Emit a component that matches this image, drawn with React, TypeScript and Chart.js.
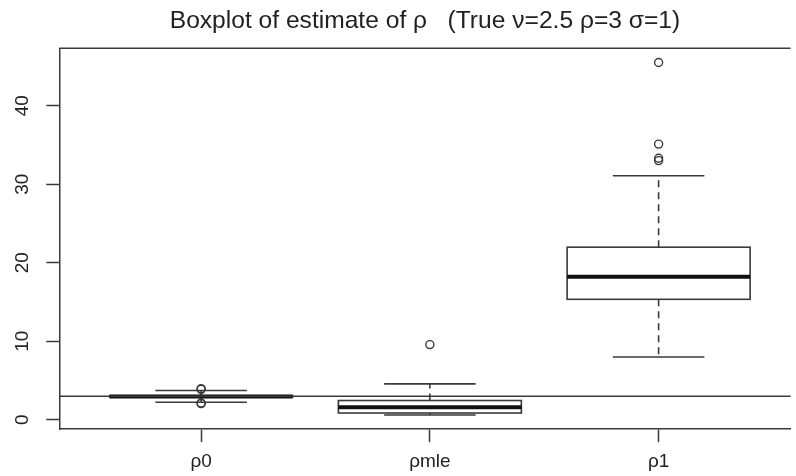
import { useEffect, useRef } from "react";
import { Chart, registerables } from "chart.js";

Chart.register(...registerables);

// ---- data ----
const categories = ["ρ0", "ρmle", "ρ1"];
const lowerWhiskers = [2.22, 0.59, 7.99];
const firstQuartiles = [2.88, 0.85, 15.33];
const medians = [2.96, 1.58, 18.2];
const thirdQuartiles = [3.05, 2.44, 21.97];
const upperWhiskers = [3.72, 4.56, 31.06];
const outliersRho0 = [3.95, 3.86, 2.12, 2.04];
const outliersRhoMle = [9.56];
const outliersRho1 = [45.5, 35.1, 33.3, 33.0];
const trueRho = 3;
const yTickValues = [0, 10, 20, 30, 40];
const yMin = -1.2;
const yMax = 47.3;
const xMin = 0.38;
const xMax = 3.577;
const titleText = "Boxplot of estimate of ρ   (True ν=2.5 ρ=3 σ=1)";

const FONT = "'Liberation Sans', Arial, Helvetica, sans-serif";
const INK = "#222";
const LINE = "#3a3a3a";
const BOX_HALF = 0.4;
const CAP_HALF = 0.2;

const boxPlugin = {
  id: "boxes",
  beforeDatasetsDraw(chart: any) {
    const { ctx, chartArea, scales } = chart;
    const x = scales.x;
    const y = scales.y;
    ctx.save();
    ctx.beginPath();
    ctx.rect(chartArea.left, chartArea.top, chartArea.right - chartArea.left, chartArea.bottom - chartArea.top);
    ctx.clip();
    categories.forEach((_, i) => {
      const xc = x.getPixelForValue(i + 1);
      const hw = x.getPixelForValue(i + 1 + BOX_HALF) - xc;
      const cw = x.getPixelForValue(i + 1 + CAP_HALF) - xc;
      const yLo = y.getPixelForValue(lowerWhiskers[i]);
      const yQ1 = y.getPixelForValue(firstQuartiles[i]);
      const yMed = y.getPixelForValue(medians[i]);
      const yQ3 = y.getPixelForValue(thirdQuartiles[i]);
      const yHi = y.getPixelForValue(upperWhiskers[i]);
      ctx.strokeStyle = LINE;
      ctx.lineWidth = 1.6;
      // dashed whiskers
      ctx.setLineDash([7, 5]);
      ctx.beginPath();
      ctx.moveTo(xc, yQ3);
      ctx.lineTo(xc, yHi);
      ctx.moveTo(xc, yQ1);
      ctx.lineTo(xc, yLo);
      ctx.stroke();
      ctx.setLineDash([]);
      // caps
      ctx.beginPath();
      ctx.moveTo(xc - cw, yHi);
      ctx.lineTo(xc + cw, yHi);
      ctx.moveTo(xc - cw, yLo);
      ctx.lineTo(xc + cw, yLo);
      ctx.stroke();
      // box
      ctx.strokeRect(xc - hw, yQ3, 2 * hw, yQ1 - yQ3);
      // median
      ctx.strokeStyle = "#111";
      ctx.lineWidth = 4;
      ctx.lineCap = "butt";
      ctx.beginPath();
      ctx.moveTo(xc - hw, yMed);
      ctx.lineTo(xc + hw, yMed);
      ctx.stroke();
    });
    ctx.restore();
  },
  afterDatasetsDraw(chart: any) {
    const { ctx, chartArea, scales } = chart;
    const yp = scales.y.getPixelForValue(trueRho);
    ctx.save();
    ctx.strokeStyle = LINE;
    ctx.lineWidth = 1.5;
    ctx.beginPath();
    ctx.moveTo(chartArea.left, yp);
    ctx.lineTo(chartArea.right, yp);
    // top frame line
    ctx.moveTo(chartArea.left, chartArea.top);
    ctx.lineTo(chartArea.right, chartArea.top);
    ctx.stroke();
    ctx.restore();
  },
  afterDraw(chart: any) {
    const { ctx, chartArea, scales } = chart;
    const y = scales.y;
    ctx.save();
    ctx.fillStyle = INK;
    ctx.font = `19px ${FONT}`;
    ctx.textAlign = "center";
    ctx.textBaseline = "alphabetic";
    y.ticks.forEach((t: any) => {
      const py = y.getPixelForValue(t.value);
      ctx.save();
      ctx.translate(chartArea.left - 31, py);
      ctx.rotate(-Math.PI / 2);
      ctx.fillText(String(t.value), 0, 0);
      ctx.restore();
    });
    ctx.restore();
  },
};

export default function App() {
  const canvasRef = useRef<HTMLCanvasElement | null>(null);

  useEffect(() => {
    if (!canvasRef.current) return;
    const groups = [outliersRho0, outliersRhoMle, outliersRho1];
    const outlierPoints = groups.flatMap((vals, i) => vals.map((v) => ({ x: i + 1, y: v })));
    const chart = new Chart(canvasRef.current, {
      type: "scatter",
      data: {
        datasets: [
          {
            data: outlierPoints,
            pointStyle: "circle",
            pointRadius: 4,
            pointBorderWidth: 1.4,
            borderColor: LINE,
            backgroundColor: "rgba(0,0,0,0)",
          } as any,
        ],
      },
      options: {
        animation: false,
        responsive: false,
        layout: { padding: { left: 46.3, right: 0, top: 0, bottom: -4.9 } },
        plugins: {
          legend: { display: false },
          tooltip: { enabled: false },
          title: {
            display: true,
            text: titleText,
            fullSize: false,
            color: INK,
            font: { family: FONT, size: 24.6, weight: "normal" },
            padding: { top: 6.4, bottom: 12.4 },
          },
        },
        scales: {
          x: {
            type: "linear",
            min: xMin,
            max: xMax,
            afterBuildTicks: (s: any) => {
              s.ticks = categories.map((_, i) => ({ value: i + 1 }));
            },
            ticks: {
              autoSkip: false,
              maxRotation: 0,
              minRotation: 0,
              padding: 8,
              color: INK,
              font: { family: FONT, size: 19 },
              callback: (v: any) => categories[Math.round(Number(v)) - 1] ?? "",
            },
            grid: { drawOnChartArea: false, drawTicks: true, tickLength: 13, tickColor: LINE, tickWidth: 1.5 },
            border: { display: true, color: LINE, width: 1.5 },
          },
          y: {
            type: "linear",
            min: yMin,
            max: yMax,
            afterBuildTicks: (s: any) => {
              s.ticks = yTickValues.map((v) => ({ value: v }));
            },
            ticks: { display: false },
            grid: { drawOnChartArea: false, drawTicks: true, tickLength: 13, tickColor: LINE, tickWidth: 1.5 },
            border: { display: true, color: LINE, width: 1.5 },
          },
        },
      } as any,
      plugins: [boxPlugin],
    });
    return () => chart.destroy();
  }, []);

  return (
    <div style={{ position: "fixed", left: 0, top: 0, width: 796, height: 476, background: "#fff" }}>
      <canvas ref={canvasRef} width={796} height={476} style={{ display: "block" }} />
    </div>
  );
}
